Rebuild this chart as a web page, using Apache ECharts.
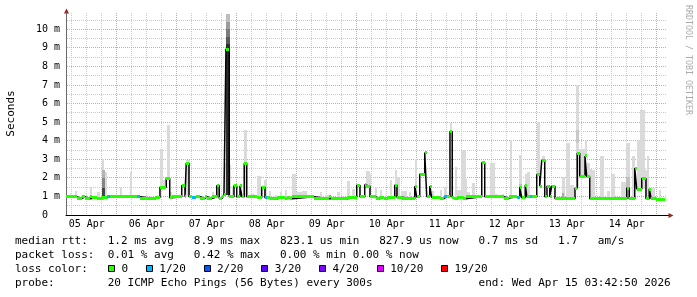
<!DOCTYPE html>
<html>
<head>
<meta charset="utf-8">
<script src="https://cdn.jsdelivr.net/npm/echarts@6/dist/echarts.min.js"></script>
<style>html,body{margin:0;padding:0;background:#fff}#c{width:697px;height:297px}</style>
</head>
<body>
<div id="c"></div>
<script>
// ---------------- data (time in hours since 05 Apr 00:00, values in ms) ----------------
const START_H = 3.71;          // Apr 05 03:42:50
const END_H = 243.71;          // Apr 15 03:42:50
const Y_MAX = 10.88;

const dayLabels = ['05 Apr','06 Apr','07 Apr','08 Apr','09 Apr','10 Apr','11 Apr','12 Apr','13 Apr','14 Apr'];
const dayLabelHours = [12,36,60,84,108,132,156,180,204,228];
const yTickValues = [0,1,2,3,4,5,6,7,8,9,10];

// median rtt, step segments (start hour, value in ms, lost pings out of 20)
const medianStart = [3.71,8.0,10.0,11.2,13.3,14.1,16.0,18.0,20.0,21.3,
  32.2,33.3,39.3,41.3,43.8,45.2,46.1,50.0,51.3,51.8,
  52.9,54.2,55.6,57.3,59.2,60.2,62.0,64.0,65.0,66.2,
  66.9,67.7,69.0,70.9,72.0,73.3,74.1,75.0,76.0,80.2,
  82.0,83.3,84.2,85.3,88.2,89.6,91.2,92.2,93.3,94.2,
  102.9,108.9,109.6,116.2,120.0,121.3,123.2,123.6,125.3,127.6,
  128.9,130.9,132.0,135.2,136.1,138.0,143.2,144.0,145.2,147.2,
  148.0,149.2,150.0,153.3,154.9,156.0,157.3,158.2,158.9,160.1,
  162.6,163.6,170.0,171.2,178.9,180.9,184.2,185.2,186.0,187.4,
  188.1,189.3,190.2,192.0,193.2,194.0,195.2,196.1,197.2,198.0,
  199.3,207.3,208.2,209.2,211.3,212.0,213.2,228.0,229.0,231.2,
  232.0,234.0,235.7,237.0,237.8,239.6];
const medianValue = [0.98,0.88,0.98,0.88,0.97,0.93,0.88,0.93,0.98,0.98,
  0.98,0.88,0.96,1.49,1.96,0.93,0.98,1.57,0.98,2.78,
  0.98,0.96,0.98,0.90,0.98,0.88,0.98,1.57,0.90,0.98,
  1.10,8.94,0.98,1.57,0.98,1.57,0.98,2.78,0.98,0.93,
  1.49,0.93,0.93,0.88,0.93,0.95,0.88,0.95,0.88,0.98,
  0.88,0.98,0.88,0.95,1.60,0.98,1.63,1.55,0.98,0.88,
  0.93,0.88,0.95,1.60,0.95,0.88,1.55,0.98,2.20,3.37,
  1.00,1.55,0.95,0.88,0.98,0.98,4.49,0.95,0.88,0.95,
  0.88,0.98,2.82,0.98,0.91,0.98,0.96,1.50,0.93,1.60,
  0.98,0.98,0.98,2.17,1.55,2.93,0.98,1.55,0.98,1.55,
  0.88,1.45,3.32,2.10,3.18,2.06,0.88,1.45,0.88,2.53,
  1.40,1.96,0.88,1.40,0.88,0.82];
const medianLoss = [0,0,0,0,0,0,0,0,1,0,
  1,0,0,0,0,0,0,0,0,0,
  0,1,0,0,0,0,0,0,0,0,
  0,0,0,0,0,0,0,0,0,0,
  0,1,0,0,0,0,0,0,0,0,
  0,0,0,0,0,0,0,0,0,0,
  0,0,0,0,0,0,0,0,0,0,
  0,0,0,0,1,0,0,0,0,0,
  0,0,0,0,0,0,1,0,0,0,
  0,1,0,0,0,0,0,0,0,0,
  0,0,0,0,0,0,0,0,0,0,
  0,0,0,0,0,0];
const medianEnd = 243.4;

// smoke (light, sparse ping spread): start hour, end hour, highest ping (ms)
const smokeStart = [5.3,7.3,10.0,13.3,16.0,18.0,18.9,20.0,25.3,26.9,29.3,34.0,37.3,41.3,42.4,44.0,45.2,51.8,62.0,64.0,
  66.9,69.0,70.1,71.2,73.3,74.9,77.8,80.2,82.9,84.9,87.2,89.3,91.2,92.2,94.2,95.6,98.2,105.3,107.3,112.0,
  116.0,118.2,123.6,125.3,127.2,129.3,133.3,135.2,136.2,137.6,140.9,143.2,149.8,153.3,154.9,157.3,159.2,160.2,161.8,163.6,
  164.2,166.2,170.0,173.3,175.3,178.0,181.3,182.6,185.0,187.3,188.2,189.3,192.0,194.0,196.0,198.2,202.0,203.6,205.3,207.7,
  209.0,211.3,212.0,213.2,214.2,217.3,220.0,221.7,225.8,227.6,230.2,231.2,232.0,233.3,235.2,236.2,237.0,240.9];
const smokeEnd = [5.8,8.0,10.6,14.1,17.3,18.9,20.0,21.3,26.2,32.0,30.1,35.3,38.2,42.4,43.3,45.2,46.0,53.2,62.9,65.3,
  67.7,69.8,70.9,72.0,74.1,76.0,79.2,81.6,84.2,85.8,88.0,90.2,92.2,93.3,95.6,98.2,100.3,106.2,109.3,113.3,
  117.3,119.2,125.3,125.8,128.0,130.2,134.2,136.2,137.3,140.2,141.8,144.2,150.8,154.2,156.0,158.2,160.2,161.6,163.6,164.2,
  165.3,167.3,171.2,175.3,176.2,178.9,182.2,183.6,186.0,188.2,189.3,190.2,193.2,195.2,197.0,198.9,203.2,205.3,206.9,209.0,
  211.3,212.0,213.2,214.2,215.2,218.9,221.3,223.2,227.6,229.2,231.2,232.0,233.3,235.2,236.2,237.0,239.2,241.8];
const smokeHigh = [1.2,1.29,1.05,1.49,1.25,3.0,2.3,1.1,1.49,1.1,2.33,1.05,1.05,3.55,1.9,4.85,1.23,2.96,1.23,1.67,
  2.8,2.7,1.5,1.6,1.67,4.58,1.15,2.1,1.9,1.3,1.1,1.23,1.33,1.05,2.2,1.25,1.3,1.23,1.1,1.23,
  1.82,1.4,2.39,2.2,1.45,1.33,1.9,2.42,2.06,1.3,1.23,3.0,1.3,1.33,1.49,4.97,2.6,1.33,3.5,1.94,
  1.23,1.7,2.87,2.82,1.15,1.15,4.04,1.1,3.23,2.2,2.3,1.05,5.02,3.18,1.1,1.15,2.06,3.9,1.6,7.0,
  3.54,4.05,2.82,2.46,2.4,3.2,1.3,2.2,1.8,3.9,3.2,2.5,4.05,5.65,2.4,3.2,1.45,1.35];

// dense smoke (many pings in band): start, end, low, high, density 0..1
const denseStart = [18.0,18.0,18.0,67.7,67.7,67.7,67.7,67.7,185.0,202.0,207.7,227.6];
const denseEnd   = [19.2,19.2,19.2,69.3,69.3,69.3,69.3,69.3,186.0,203.0,209.0,229.2];
const denseLow   = [0.98,1.45,2.0,1.1,9.2,9.6,10.0,10.4,1.5,0.98,3.9,1.5];
const denseHigh  = [1.45,2.0,2.45,9.2,9.6,10.0,10.4,10.8,1.65,1.2,4.6,2.05];
const denseLevel = [0.85,0.55,0.35,0.95,0.75,0.6,0.45,0.3,0.3,0.4,0.25,0.28];

// loss colour legend
const lossLabels = ['0','1/20','2/20','3/20','4/20','10/20','19/20'];
const lossThreshold = [0,1,2,3,4,10,19];
const lossColors = ['#26ff00','#00b8ff','#0059ff','#5e00ff','#7e00ff','#dd00ff','#ff0000'];

const statLines = [
  'median rtt:   1.2 ms avg   8.9 ms max   823.1 us min   827.9 us now   0.7 ms sd   1.7   am/s',
  'packet loss:  0.01 % avg   0.42 % max   0.00 % min 0.00 % now',
  'loss color:',
  'probe:        20 ICMP Echo Pings (56 Bytes) every 300s                end: Wed Apr 15 03:42:50 2026'
];

// ---------------- rendering ----------------
const MONO = '"DejaVu Sans Mono", monospace';
const MAJOR = '#eb9c9c', MINOR = '#c9c9c9';
const LIGHT_SMOKE = '#dadada';
const CH = 6.62; // char advance of 11px DejaVu Sans Mono

function medianMin(t0, t1) {
  let m = Infinity;
  for (let i = 0; i < medianStart.length; i++) {
    const s = medianStart[i], e = i + 1 < medianStart.length ? medianStart[i + 1] : medianEnd;
    if (e > t0 && s < t1) m = Math.min(m, medianValue[i]);
  }
  return m;
}
function lossColor(n) {
  let idx = 0;
  for (let i = 0; i < lossThreshold.length; i++) if (n >= lossThreshold[i]) idx = i;
  return lossColors[idx];
}
function shade(level) {
  const g = Math.round(255 - level * 220);
  return 'rgb(' + g + ',' + g + ',' + g + ')';
}
function rectFrom(api, t0, t1, lo, hi) {
  const a = api.coord([t0, hi]), b = api.coord([t1, lo]);
  const x0 = Math.round(a[0]), x1 = Math.round(b[0]);
  const y0 = Math.round(a[1]), y1 = Math.round(b[1]);
  return {x: x0, y: y0, width: Math.max(1, x1 - x0), height: Math.max(1, y1 - y0)};
}

const vGrid = [];
for (let h = 6; h < END_H; h += 6) if (h > START_H) vGrid.push([h, 0]);
const hGrid = [];
for (let k = 1; k <= 21; k++) hGrid.push([START_H, k * 0.5]);

const lineData = medianStart.map((t, i) => [t, medianValue[i]]);
lineData.push([medianEnd, medianValue[medianValue.length - 1]]);
const bandData = medianStart.map((t, i) => [t, i + 1 < medianStart.length ? medianStart[i + 1] : medianEnd, medianValue[i], medianLoss[i]]);
const smokeData = smokeStart.map((t, i) => [t, smokeEnd[i], smokeHigh[i]]);
const denseData = denseStart.map((t, i) => [t, denseEnd[i], denseLow[i], denseHigh[i], denseLevel[i]]);

const graphics = [];
graphics.push({type: 'text', x: 11, y: 113.5, rotation: Math.PI / 2,
  style: {text: 'Seconds', font: '11px ' + MONO, fill: '#000', align: 'center', verticalAlign: 'middle'}});
graphics.push({type: 'text', x: 688, y: 60, rotation: -Math.PI / 2,
  style: {text: 'RRDTOOL / TOBI OETIKER', font: '8.3px ' + MONO, fill: '#ababab', align: 'center', verticalAlign: 'middle'}});
graphics.push({type: 'line', shape: {x1: 666, y1: 215.5, x2: 669, y2: 215.5}, style: {stroke: '#000', lineWidth: 1}});
graphics.push({type: 'polygon', shape: {points: [[64, 13.5], [69, 13.5], [66.5, 8.5]]}, style: {fill: '#9c2222'}});
graphics.push({type: 'polygon', shape: {points: [[668.5, 213], [668.5, 218], [673.5, 215.5]]}, style: {fill: '#9c2222'}});
const lineY = [241, 255, 269, 283];
statLines.forEach((s, i) => {
  graphics.push({type: 'text', x: 15, y: lineY[i],
    style: {text: s, font: '11px ' + MONO, fill: '#000', verticalAlign: 'middle'}});
});
let lx = 108;
lossLabels.forEach((lab, i) => {
  graphics.push({type: 'rect', shape: {x: Math.round(lx) + 0.5, y: 265.5, width: 6, height: 6},
    style: {fill: lossColors[i], stroke: '#000', lineWidth: 1}});
  graphics.push({type: 'text', x: lx + 13.4, y: 269,
    style: {text: lab, font: '11px ' + MONO, fill: '#000', verticalAlign: 'middle'}});
  lx += (lab.length + 4.72) * CH;
});

const chart = echarts.init(document.getElementById('c'), null, {renderer: 'canvas', width: 697, height: 297});
chart.setOption({
  animation: false,
  backgroundColor: '#fff',
  grid: {left: 66, top: 13, width: 600, height: 202},
  xAxis: {
    type: 'value', min: START_H, max: END_H,
    splitLine: {show: false}, axisTick: {show: false},
    axisLine: {show: true, lineStyle: {color: '#000', width: 1}},
    axisLabel: {customValues: dayLabelHours, formatter: v => dayLabels[dayLabelHours.indexOf(v)] || '',
      fontFamily: MONO, fontSize: 10, color: '#000', margin: 4}
  },
  yAxis: {
    type: 'value', min: 0, max: Y_MAX, interval: 1,
    splitLine: {show: false}, axisTick: {show: false},
    axisLine: {show: true, lineStyle: {color: '#6a6a6a', width: 1}},
    axisLabel: {customValues: yTickValues, formatter: v => (v === 0 ? '0\u00a0\u00a0' : (Number.isInteger(v) ? v + ' m' : '')),
      fontFamily: MONO, fontSize: 10, color: '#000', margin: 6}
  },
  series: [
    {type: 'custom', name: 'vgrid', z: 1, silent: true, data: vGrid, encode: {x: 0, y: 1},
      renderItem: (params, api) => {
        const h = api.value(0), cs = params.coordSys;
        const x = Math.floor(api.coord([h, 0])[0]) + 0.5;
        return {type: 'line', shape: {x1: x, y1: cs.y, x2: x, y2: cs.y + cs.height},
          style: {stroke: h % 24 === 0 ? MAJOR : MINOR, lineWidth: 1, lineDash: [1, 1]}};
      }},
    {type: 'custom', name: 'hgrid', z: 1, silent: true, data: hGrid, encode: {x: 0, y: 1},
      renderItem: (params, api) => {
        const v = api.value(1), cs = params.coordSys;
        const y = Math.floor(api.coord([START_H, v])[1]) + 0.5;
        return {type: 'line', shape: {x1: cs.x + 1, y1: y, x2: cs.x + cs.width, y2: y},
          style: {stroke: Number.isInteger(v) ? MAJOR : MINOR, lineWidth: 1, lineDash: [1, 1]}};
      }},
    {type: 'custom', name: 'smoke', z: 2, silent: true, clip: true, data: smokeData, encode: {x: [0, 1], y: 2},
      renderItem: (params, api) => {
        const t0 = api.value(0), t1 = api.value(1), hi = api.value(2);
        const lo = medianMin(t0, t1);
        if (hi <= lo) return null;
        return {type: 'rect', shape: rectFrom(api, t0, t1, lo, hi), style: {fill: LIGHT_SMOKE}};
      }},
    {type: 'custom', name: 'dense', z: 3, silent: true, clip: true, data: denseData, encode: {x: [0, 1], y: [2, 3]},
      renderItem: (params, api) => {
        return {type: 'rect', shape: rectFrom(api, api.value(0), api.value(1), api.value(2), api.value(3)),
          style: {fill: shade(api.value(4))}};
      }},
    {type: 'line', name: 'median', z: 4, silent: true, step: 'end', data: lineData,
      showSymbol: false, symbol: 'none', lineStyle: {color: '#000', width: 1.5}},
    {type: 'custom', name: 'loss', z: 5, silent: true, clip: true, data: bandData, encode: {x: [0, 1], y: 2},
      renderItem: (params, api) => {
        const t0 = api.value(0), t1 = api.value(1), v = api.value(2);
        const a = api.coord([t0, v]), b = api.coord([t1, v]);
        const x0 = Math.round(a[0]), x1 = Math.round(b[0]);
        return {type: 'rect', shape: {x: x0, y: Math.round(a[1] - 1.5), width: Math.max(1, x1 - x0), height: 3},
          style: {fill: lossColor(api.value(3))}};
      }}
  ],
  graphic: graphics
});
</script>
</body>
</html>
